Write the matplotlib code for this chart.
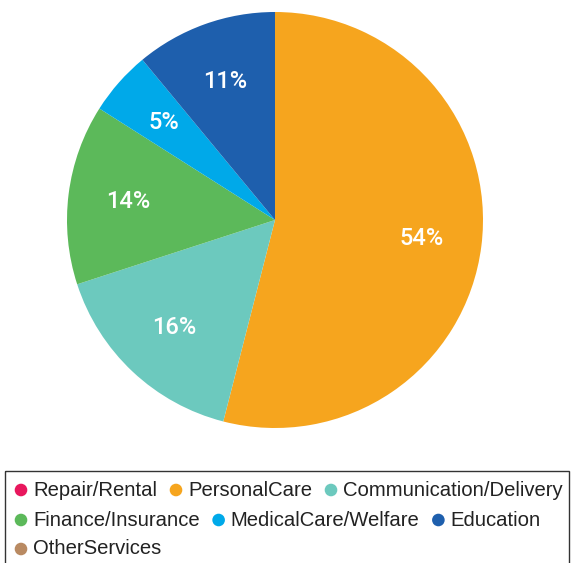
import matplotlib
matplotlib.use("Agg")
import matplotlib.pyplot as plt
from matplotlib.patches import Circle, Rectangle

plt.rcParams['font.family'] = ['Liberation Sans', 'DejaVu Sans']

# ---------- data ----------
categories = ["Repair/Rental", "PersonalCare", "Communication/Delivery",
              "Finance/Insurance", "MedicalCare/Welfare", "Education", "OtherServices"]
shares = [0, 54, 16, 14, 5, 11, 0]
colors = ["#E8175D", "#F6A51E", "#6CC9BE", "#5CB95A", "#00A9E9", "#1E5FAD", "#B98A62"]

W, H, DPI = 571, 563, 100
fig = plt.figure(figsize=(W / DPI, H / DPI), dpi=DPI)

# ---------- pie ----------
cx, cy, r = 275, 220, 208
ax = fig.add_axes([(cx - r) / W, (H - cy - r) / H, 2 * r / W, 2 * r / H])
wedges, _, autotexts = ax.pie(
    shares, colors=colors, startangle=90, counterclock=False,
    autopct=lambda p: f"{p:.0f}%" if p > 0.5 else "",
    pctdistance=0.71, wedgeprops=dict(linewidth=0),
    textprops=dict(color="white", fontsize=17, fontweight="medium",
                   family=["Roboto", "DejaVu Sans"]))
ax.set_xlim(-1, 1)
ax.set_ylim(-1, 1)
ax.set_aspect("equal")
ax.axis("off")

# ---------- legend (flow layout, pixel coords) ----------
lax = fig.add_axes([0, 0, 1, 1])
lax.set_xlim(0, W)
lax.set_ylim(H, 0)
lax.axis("off")

lax.add_patch(Rectangle((4.5, 471), 564, 120, fill=False, edgecolor="#333333",
                        linewidth=1.0, clip_on=True))

fig.canvas.draw()
renderer = fig.canvas.get_renderer()

x0, x_max = 15, 566
row_y = [490, 520, 549]
x, row = x0, 0
for name, col in zip(categories, colors):
    t = lax.text(0, 0, name, fontsize=14.6, color="#222222", va="center", ha="left")
    tw = t.get_window_extent(renderer).width
    item_w = 18 + tw
    if x + item_w > x_max and x > x0:
        row += 1
        x = x0
    y = row_y[row]
    lax.add_patch(Circle((x + 6, y), 6.3, color=col, linewidth=0))
    t.set_position((x + 18, y))
    x += item_w + 13

fig.savefig("out.png", dpi=DPI)
